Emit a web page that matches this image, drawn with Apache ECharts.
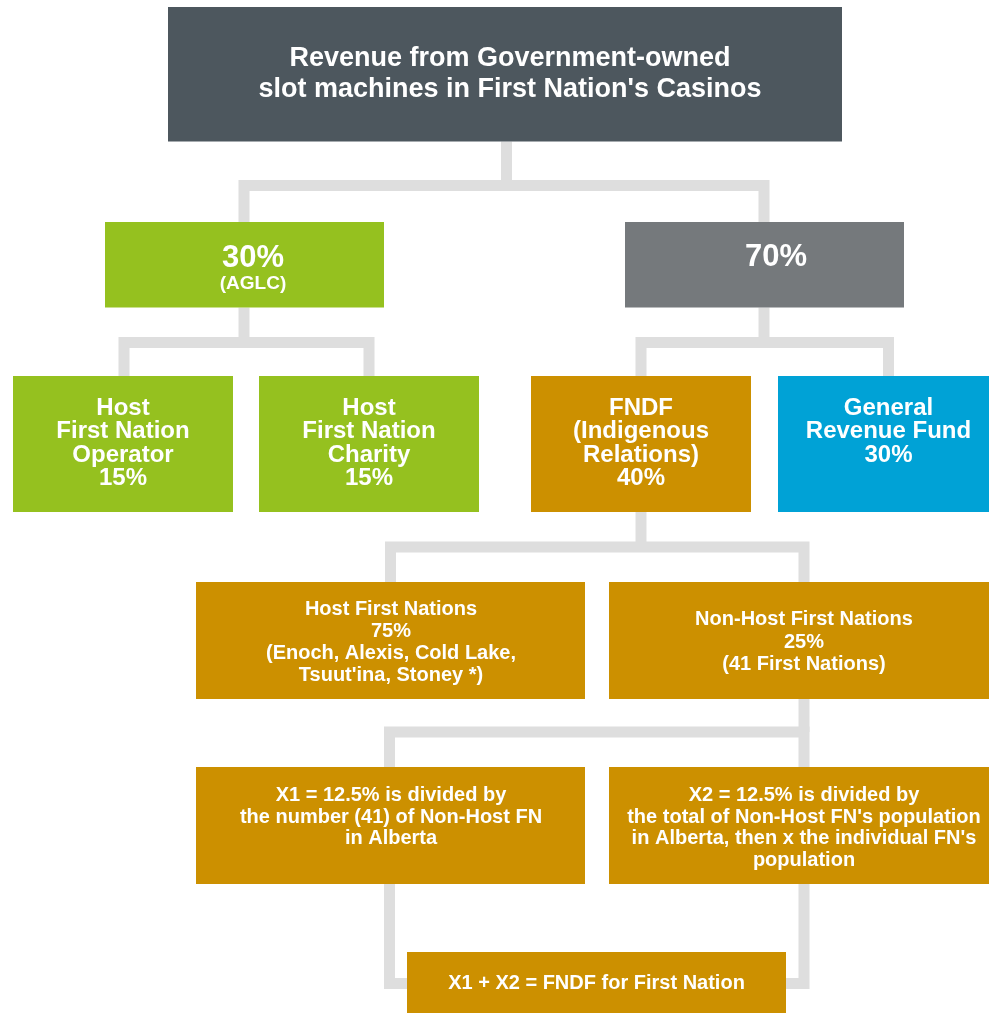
<!DOCTYPE html>
<html>
<head>
<meta charset="utf-8">
<script src="https://cdn.jsdelivr.net/npm/echarts@6/dist/echarts.min.js"></script>
<style>
html,body{margin:0;padding:0;background:#ffffff;}
#chart{width:989px;height:1013px;}
</style>
</head>
<body>
<div id="chart"></div>
<script>
// ---------------- data ----------------
const nodeNames = ['root','aglc','gov70','operator','charity','fndf','grf','hostFN','nonHostFN','x1','x2','sum'];
const nodeLabels = [
  ['Revenue from Government-owned', "slot machines in First Nation's Casinos"],
  ['30%', '(AGLC)'],
  ['70%'],
  ['Host', 'First Nation', 'Operator', '15%'],
  ['Host', 'First Nation', 'Charity', '15%'],
  ['FNDF', '(Indigenous', 'Relations)', '40%'],
  ['General', 'Revenue Fund', '30%'],
  ['Host First Nations', '75%', '(Enoch, Alexis, Cold Lake,', "Tsuut'ina, Stoney *)"],
  ['Non-Host First Nations', '25%', '(41 First Nations)'],
  ['X1 = 12.5% is divided by', 'the number (41) of Non-Host FN', 'in Alberta'],
  ['X2 = 12.5% is divided by', "the total of Non-Host FN's population", "in Alberta, then x the individual FN's", 'population'],
  ['X1 + X2 = FNDF for First Nation']
];
// parent -> children (split) and children -> target (merge)
const splitLinks = [[0, [1, 2]], [1, [3, 4]], [2, [5, 6]], [5, [7, 8]], [8, [9, 10]]];
const mergeLinks = [[[9, 10], 11]];

// ---------------- layout / style (diagram units = px) ----------------
const GREEN = '#95c11f', GOLD = '#cc9000', BLUE = '#00a2d6', GREY = '#75797c', SLATE = '#4d575e';
const boxLayout = [
  {x0:168, y0:7,   x1:842, y1:141.5, px:506.5, tx:510,   c1:51.5, lh:31,   fs:[27],     color:SLATE},
  {x0:105, y0:222, x1:384, y1:307.5, px:244,   tx:253,   c1:36.5, lh:25.5, fs:[31, 19], color:GREEN},
  {x0:625, y0:222, x1:904, y1:307.5, px:764,   tx:776,   c1:35,   lh:25,   fs:[31],     color:GREY},
  {x0:13,  y0:376, x1:233, y1:512,   px:124,   tx:123,   c1:32.5, lh:23.3, fs:[24],     color:GREEN},
  {x0:259, y0:376, x1:479, y1:512,   px:369,   tx:369,   c1:32.5, lh:23.3, fs:[24],     color:GREEN},
  {x0:531, y0:376, x1:751, y1:512,   px:641,   tx:641,   c1:32.5, lh:23.3, fs:[24],     color:GOLD},
  {x0:778, y0:376, x1:999, y1:512,   px:888.5, tx:888.5, c1:32.5, lh:23.3, fs:[24],     color:BLUE},
  {x0:196, y0:582, x1:585, y1:699,   px:390.5, tx:391,   c1:27,   lh:22.1, fs:[20],     color:GOLD},
  {x0:609, y0:582, x1:999, y1:699,   px:804,   tx:804,   c1:37.8, lh:22.3, fs:[20],     color:GOLD},
  {x0:196, y0:767, x1:585, y1:884,   px:389.5, tx:391,   c1:28.5, lh:21.7, fs:[20],     color:GOLD},
  {x0:609, y0:767, x1:999, y1:884,   px:804,   tx:804,   c1:28.5, lh:21.7, fs:[20],     color:GOLD},
  {x0:407, y0:952, x1:786, y1:1013,  px:596.5, tx:596.5, c1:31.8, lh:22,   fs:[20],     color:GOLD}
];
const splitBusY = [185.5, 342.5, 342.5, 547, 732];
const mergeBusY = [983.5];
const LINK_COLOR = '#dedede';
const LINK_WIDTH = 11;
const FONT_FAMILY = '"Liberation Sans", Arial, Helvetica, sans-serif';

// ---------------- render ----------------
function line(api, pts) {
  return {
    type: 'polyline',
    shape: { points: pts.map(p => api.coord(p)) },
    style: { stroke: LINK_COLOR, lineWidth: LINK_WIDTH, fill: null, lineJoin: 'miter', lineCap: 'butt' }
  };
}

function renderSplit(params, api) {
  const idx = api.value(2);
  const parent = splitLinks[idx][0];
  const kids = splitLinks[idx][1];
  const by = splitBusY[idx];
  const P = boxLayout[parent];
  const L = boxLayout[kids[0]], R = boxLayout[kids[kids.length - 1]];
  return {
    type: 'group',
    children: [
      line(api, [[L.px, L.y0], [L.px, by], [R.px, by], [R.px, R.y0]]),
      line(api, [[P.px, P.y1], [P.px, by]])
    ]
  };
}

function renderMerge(params, api) {
  const idx = api.value(2);
  const sources = mergeLinks[idx][0];
  const T = boxLayout[mergeLinks[idx][1]];
  const by = mergeBusY[idx];
  return {
    type: 'group',
    children: sources.map(s => {
      const S = boxLayout[s];
      const edge = S.px < T.x0 ? T.x0 : T.x1;
      return line(api, [[S.px, S.y1], [S.px, by], [edge, by]]);
    })
  };
}

function renderBox(params, api) {
  const i = api.value(2);
  const B = boxLayout[i];
  const p0 = api.coord([B.x0, B.y0]);
  const p1 = api.coord([B.x1, B.y1]);
  const children = [{
    type: 'rect',
    shape: { x: p0[0], y: p0[1], width: p1[0] - p0[0], height: p1[1] - p0[1] },
    style: { fill: B.color }
  }];
  nodeLabels[i].forEach((t, k) => {
    const c = api.coord([B.tx, B.y0 + B.c1 + k * B.lh]);
    const fs = B.fs[Math.min(k, B.fs.length - 1)];
    children.push({
      type: 'text',
      style: {
        text: t, x: c[0], y: c[1], fill: '#ffffff',
        font: 'bold ' + fs + 'px ' + FONT_FAMILY,
        align: 'center', verticalAlign: 'middle',
        textAlign: 'center', textVerticalAlign: 'middle'
      }
    });
  });
  return { type: 'group', children };
}

const chart = echarts.init(document.getElementById('chart'), null, { renderer: 'canvas' });
chart.setOption({
  animation: false,
  backgroundColor: '#ffffff',
  grid: { left: 0, right: 0, top: 0, bottom: 0 },
  xAxis: { type: 'value', min: 0, max: 989, show: false },
  yAxis: { type: 'value', min: 0, max: 1013, inverse: true, show: false },
  series: [
    { type: 'custom', name: 'splits', silent: true, renderItem: renderSplit,
      data: splitLinks.map((l, i) => [boxLayout[l[0]].px, splitBusY[i], i]) },
    { type: 'custom', name: 'merges', silent: true, renderItem: renderMerge,
      data: mergeLinks.map((l, i) => [boxLayout[l[1]].px, mergeBusY[i], i]) },
    { type: 'custom', name: 'boxes', silent: true, renderItem: renderBox,
      data: nodeNames.map((n, i) => [boxLayout[i].tx, boxLayout[i].y0, i]) }
  ]
});
</script>
</body>
</html>
